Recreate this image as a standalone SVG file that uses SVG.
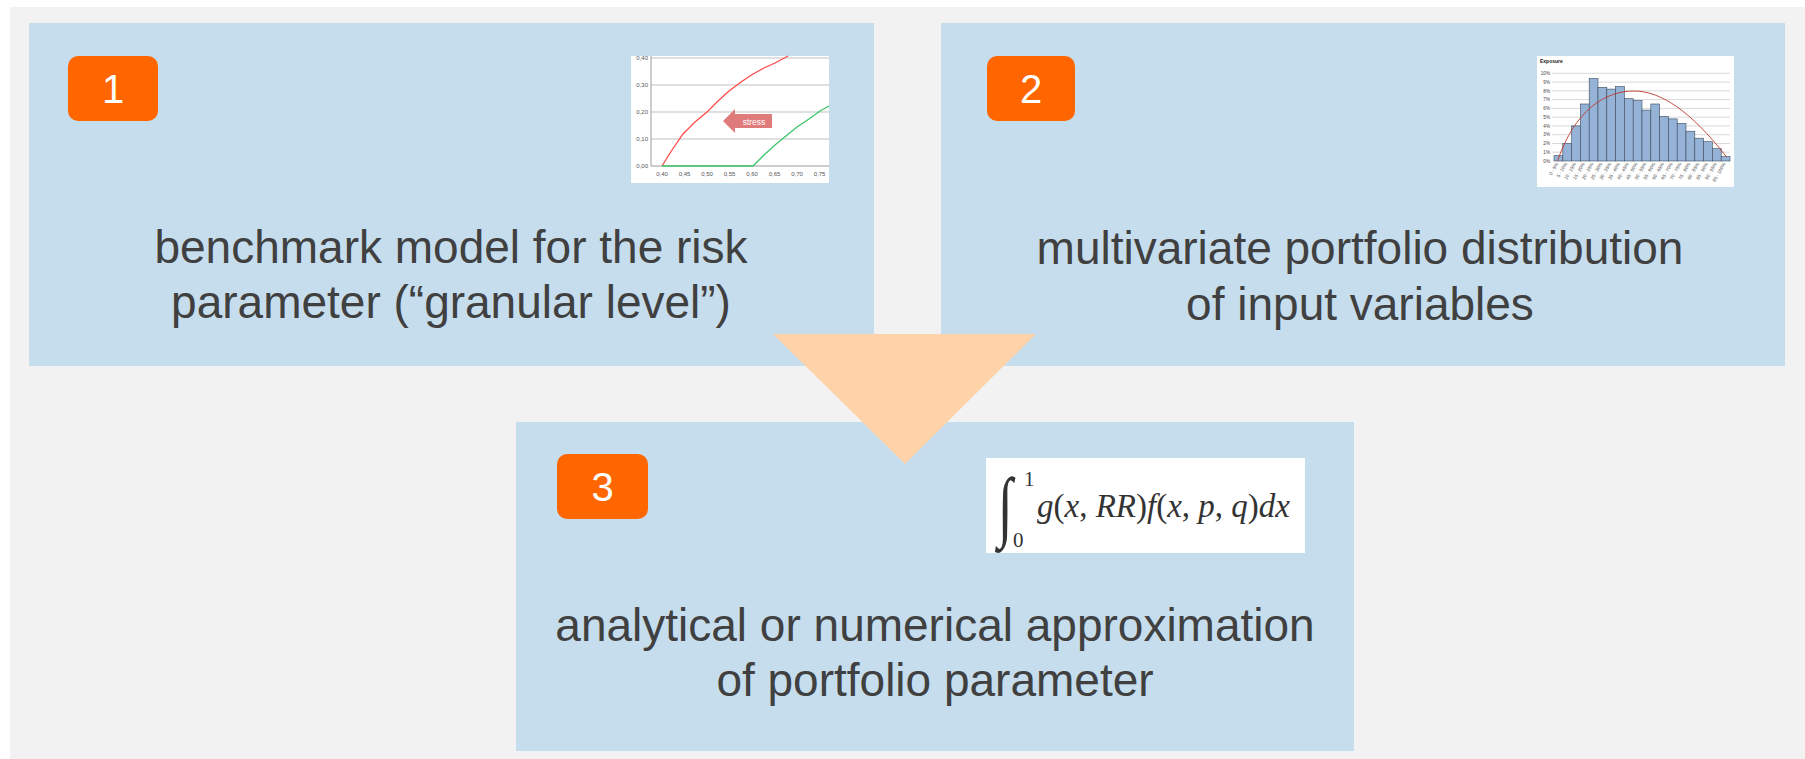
<svg xmlns="http://www.w3.org/2000/svg" width="1805" height="759" viewBox="0 0 1805 759">
<style>
.box{fill:#C6DDED}
.badge{fill:#FF6600}
.num{font-family:"Liberation Sans",Arial,sans-serif;font-size:40px;fill:#fff;text-anchor:middle}
.lbl{font-family:"Liberation Sans",Arial,sans-serif;font-size:46px;fill:#404040;text-anchor:middle}
.grid{stroke:#d6d6d6;stroke-width:1.4}
.ax{font-family:"Liberation Sans",Arial,sans-serif;font-size:6px;fill:#555}
.hax{font-family:"Liberation Sans",Arial,sans-serif;font-size:4.6px;fill:#444}
.bar{fill:#95B3D7;stroke:#3B4A5C;stroke-width:0.6}
.hg{stroke:#cfcfcf;stroke-width:0.8}
.m{font-family:"Liberation Serif","Times New Roman",serif;fill:#333}
.i{font-style:italic}
</style>
<rect x="0" y="0" width="1805" height="759" fill="#ffffff"/>
<rect x="10" y="7" width="1795" height="752" fill="#F2F2F2"/>

<g id="node1">
<rect class="box" x="29" y="23" width="845" height="343"/>
<rect class="badge" x="68" y="56" width="90" height="65" rx="10"/>
<text class="num" x="113" y="103">1</text>
<g id="chart1">
<rect x="631" y="56" width="198" height="127" fill="#fff"/>
<line class="grid" x1="651" y1="58" x2="829" y2="58"/>
<line class="grid" x1="651" y1="85" x2="829" y2="85"/>
<line class="grid" x1="651" y1="112" x2="829" y2="112"/>
<line class="grid" x1="651" y1="139" x2="829" y2="139"/>
<line x1="651" y1="166" x2="829" y2="166" stroke="#9a9a9a" stroke-width="1"/>
<line x1="651" y1="56" x2="651" y2="166" stroke="#9a9a9a" stroke-width="1"/>
<g class="ax" text-anchor="end">
<text x="648" y="60">0,40</text><text x="648" y="87">0,30</text><text x="648" y="114">0,20</text><text x="648" y="141">0,10</text><text x="648" y="168">0,00</text>
</g>
<g class="ax" text-anchor="middle">
<text x="662" y="176">0,40</text><text x="684.5" y="176">0,45</text><text x="707" y="176">0,50</text><text x="729.5" y="176">0,55</text><text x="752" y="176">0,60</text><text x="774.5" y="176">0,65</text><text x="797" y="176">0,70</text><text x="819.5" y="176">0,75</text>
</g>
<polyline points="662,166 672,150 683,134 695,122 707,112 718,101 729,91 741,82 753,74 764,68 775,63 788,56" fill="none" stroke="#FF4A4A" stroke-width="1.3"/>
<polyline points="662,166 753,166 764,155 775,145 786,136 797,127 809,119 820,111 829,106" fill="none" stroke="#3CC56A" stroke-width="1.3"/>
<polygon points="723,121 735,109 735,114 772,114 772,128 735,128 735,133" fill="#E07B7B"/>
<text x="754" y="124.5" font-family="Liberation Sans,Arial,sans-serif" font-size="8.5" fill="#fff" text-anchor="middle">stress</text>
</g>
<text class="lbl" x="451" y="263">benchmark model for the risk</text>
<text class="lbl" x="451" y="318">parameter (“granular level”)</text>
</g>

<g id="node2">
<rect class="box" x="941" y="23" width="844" height="343"/>
<rect class="badge" x="987" y="56" width="88" height="65" rx="10"/>
<text class="num" x="1031" y="103">2</text>
<g id="chart2">
<rect x="1537" y="56" width="197" height="131" fill="#fff"/>
<text x="1540" y="63" font-family="Liberation Sans,Arial,sans-serif" font-size="5" font-weight="bold" fill="#222">Exposure</text>
<g>
<line class="hg" x1="1552" y1="73.3" x2="1730" y2="73.3"/>
<line class="hg" x1="1552" y1="82.1" x2="1730" y2="82.1"/>
<line class="hg" x1="1552" y1="90.8" x2="1730" y2="90.8"/>
<line class="hg" x1="1552" y1="99.6" x2="1730" y2="99.6"/>
<line class="hg" x1="1552" y1="108.4" x2="1730" y2="108.4"/>
<line class="hg" x1="1552" y1="117.2" x2="1730" y2="117.2"/>
<line class="hg" x1="1552" y1="125.9" x2="1730" y2="125.9"/>
<line class="hg" x1="1552" y1="134.7" x2="1730" y2="134.7"/>
<line class="hg" x1="1552" y1="143.5" x2="1730" y2="143.5"/>
<line class="hg" x1="1552" y1="152.2" x2="1730" y2="152.2"/>
</g>
<g class="hax" text-anchor="end">
<text x="1550" y="75">10%</text><text x="1550" y="83.8">9%</text><text x="1550" y="92.5">8%</text><text x="1550" y="101.3">7%</text><text x="1550" y="110.1">6%</text><text x="1550" y="118.9">5%</text><text x="1550" y="127.6">4%</text><text x="1550" y="136.4">3%</text><text x="1550" y="145.2">2%</text><text x="1550" y="153.9">1%</text><text x="1550" y="162.7">0%</text>
</g>
<g>
<rect class="bar" x="1554" y="155.7" width="8.8" height="5.3"/>
<rect class="bar" x="1562.8" y="143.5" width="8.8" height="17.5"/>
<rect class="bar" x="1571.6" y="125.9" width="8.8" height="35.1"/>
<rect class="bar" x="1580.4" y="104" width="8.8" height="57"/>
<rect class="bar" x="1589.2" y="78.6" width="8.8" height="82.4"/>
<rect class="bar" x="1598" y="87.3" width="8.8" height="73.7"/>
<rect class="bar" x="1606.8" y="89.1" width="8.8" height="71.9"/>
<rect class="bar" x="1615.6" y="86.5" width="8.8" height="74.5"/>
<rect class="bar" x="1624.4" y="98.7" width="8.8" height="62.3"/>
<rect class="bar" x="1633.2" y="100.5" width="8.8" height="60.5"/>
<rect class="bar" x="1642" y="110.1" width="8.8" height="50.9"/>
<rect class="bar" x="1650.8" y="104" width="8.8" height="57"/>
<rect class="bar" x="1659.6" y="116.3" width="8.8" height="44.7"/>
<rect class="bar" x="1668.4" y="118.9" width="8.8" height="42.1"/>
<rect class="bar" x="1677.2" y="123.3" width="8.8" height="37.7"/>
<rect class="bar" x="1686" y="131.2" width="8.8" height="29.8"/>
<rect class="bar" x="1694.8" y="138.2" width="8.8" height="22.8"/>
<rect class="bar" x="1703.6" y="141.7" width="8.8" height="19.3"/>
<rect class="bar" x="1712.4" y="148.7" width="8.8" height="12.3"/>
<rect class="bar" x="1721.2" y="156.6" width="8.8" height="4.4"/>
</g>
<path d="M1557.5,161 C1575,110 1605,91 1634,91 C1660,91 1690,110 1726.6,157" fill="none" stroke="#C0392B" stroke-width="0.9"/>
<g class="hax" font-size="3.8" text-anchor="end">
<text transform="translate(1558.4,164) rotate(-60)">0 - 5%</text>
<text transform="translate(1567.2,164) rotate(-60)">5 - 10%</text>
<text transform="translate(1576,164) rotate(-60)">10 - 15%</text>
<text transform="translate(1584.8,164) rotate(-60)">15 - 20%</text>
<text transform="translate(1593.6,164) rotate(-60)">20 - 25%</text>
<text transform="translate(1602.4,164) rotate(-60)">25 - 30%</text>
<text transform="translate(1611.2,164) rotate(-60)">30 - 35%</text>
<text transform="translate(1620,164) rotate(-60)">35 - 40%</text>
<text transform="translate(1628.8,164) rotate(-60)">40 - 45%</text>
<text transform="translate(1637.6,164) rotate(-60)">45 - 50%</text>
<text transform="translate(1646.4,164) rotate(-60)">50 - 55%</text>
<text transform="translate(1655.2,164) rotate(-60)">55 - 60%</text>
<text transform="translate(1664,164) rotate(-60)">60 - 65%</text>
<text transform="translate(1672.8,164) rotate(-60)">65 - 70%</text>
<text transform="translate(1681.6,164) rotate(-60)">70 - 75%</text>
<text transform="translate(1690.4,164) rotate(-60)">75 - 80%</text>
<text transform="translate(1699.2,164) rotate(-60)">80 - 85%</text>
<text transform="translate(1708,164) rotate(-60)">85 - 90%</text>
<text transform="translate(1716.8,164) rotate(-60)">90 - 95%</text>
<text transform="translate(1725.6,164) rotate(-60)">95 - 100%</text>
</g>
</g>
<text class="lbl" x="1360" y="264">multivariate portfolio distribution</text>
<text class="lbl" x="1360" y="320">of input variables</text>
</g>

<g id="node3">
<rect class="box" x="516" y="422" width="838" height="329"/>
<rect class="badge" x="557" y="454" width="91" height="65" rx="10"/>
<text class="num" x="602.5" y="500.5">3</text>
<g id="formula">
<rect x="986" y="458" width="319" height="95" fill="#fff"/>
<text x="0" y="0" font-family="Liberation Serif,serif" font-size="60" fill="#333" transform="translate(998,532) scale(0.9,1.3)">∫</text>
<text class="m" x="1024" y="486" font-size="21">1</text>
<text class="m" x="1013" y="547" font-size="21">0</text>
<text class="m" x="1037" y="517" font-size="33" textLength="253" lengthAdjust="spacingAndGlyphs"><tspan class="i">g</tspan>(<tspan class="i">x</tspan>, <tspan class="i">RR</tspan>)<tspan class="i">f</tspan>(<tspan class="i">x</tspan>, <tspan class="i">p</tspan>, <tspan class="i">q</tspan>)<tspan class="i">dx</tspan></text>
</g>
<text class="lbl" x="935" y="641">analytical or numerical approximation</text>
<text class="lbl" x="935" y="696">of portfolio parameter</text>
</g>

<g id="connectors">
<polygon points="773,334 1036,334 905,464" fill="#FFD3A9"/>
</g>
</svg>
